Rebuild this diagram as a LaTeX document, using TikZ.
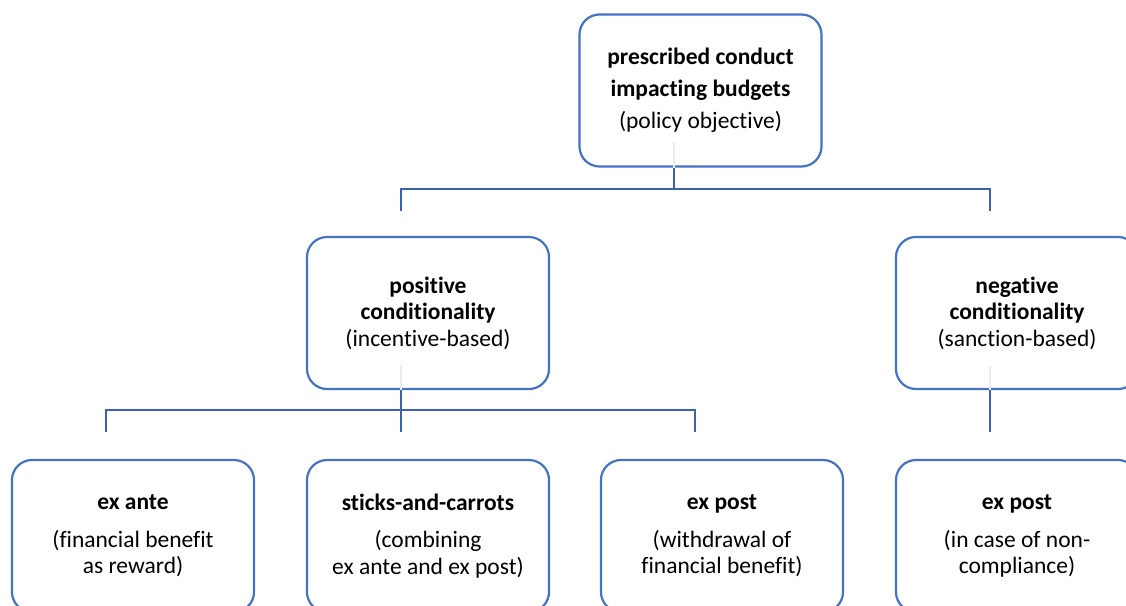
\documentclass[tikz,border=0pt]{standalone}
\usepackage{fontspec}
\setmainfont[Ligatures=NoCommon]{Carlito}
\definecolor{boxblue}{HTML}{4472C4}
\definecolor{lineblue}{HTML}{3C62AC}
\definecolor{faintblue}{HTML}{E6ECF6}
\begin{document}
\begin{tikzpicture}[x=1pt,y=-1pt,
  box/.style={draw=boxblue, line width=2.2pt, rounded corners=20pt,
    minimum width=242pt, minimum height=152pt, align=center, inner sep=0pt,
    font=\fontsize{23.5}{26.5}\selectfont},
  conn/.style={draw=lineblue, line width=2.6pt},
  faint/.style={draw=faintblue, line width=2pt}]
\useasboundingbox (0,0) rectangle (1126,605);
\clip (0,0) rectangle (1126,605);

% faint inner traces
\coordinate (f1) at (674,142);
\coordinate (f2) at (401,365);
\coordinate (f3) at (990,366);

\node[box] (top) at (700.5,90.5) {\textbf{prescribed conduct}\\[5.5pt]\textbf{impacting budgets}\\[5.5pt](policy objective)};
\node[box] (pos) at (428,313) {\textbf{positive}\\\textbf{conditionality}\\(incentive-based)};
\node[box] (neg) at (1017,313) {\textbf{negative}\\\textbf{conditionality}\\(sanction-based)};
\node[box] (b1) at (133,536) {\textbf{ex ante}\\[11pt](financial benefit\\as reward)};
\node[box] (b2) at (428,536) {\textbf{sticks-and-carrots}\\[11pt](combining\\ex ante and ex post)};
\node[box] (b3) at (722,536) {\textbf{ex post}\\[11pt](withdrawal of\\financial benefit)};
\node[box] (b4) at (1017,536) {\textbf{ex post}\\[11pt](in case of non-\\compliance)};

\draw[faint] (f1) -- (top.south -| f1);
\draw[faint] (f2) -- (pos.south -| f2);
\draw[faint] (f3) -- (neg.south -| f3);

% level 1 connectors
\coordinate (tj) at (674,189);
\coordinate (bl) at (401,189);
\coordinate (br) at (990,189);
\coordinate (pl) at (401,211);
\coordinate (nl) at (990,211);
\draw[conn] (top.south -| tj) -- (tj);
\draw[conn] (pl) -- (bl) -- (br) -- (nl);

% level 2 connectors
\coordinate (pj) at (401,410);
\coordinate (ql) at (106,410);
\coordinate (qr) at (695,410);
\coordinate (d1) at (106,432);
\coordinate (d2) at (401,432);
\coordinate (d3) at (695,432);
\coordinate (d4) at (990,432);
\draw[conn] (pos.south -| pj) -- (pj);
\draw[conn] (d1) -- (ql) -- (qr) -- (d3);
\draw[conn] (pj) -- (d2);
\draw[conn] (neg.south -| d4) -- (d4);
\end{tikzpicture}
\end{document}
